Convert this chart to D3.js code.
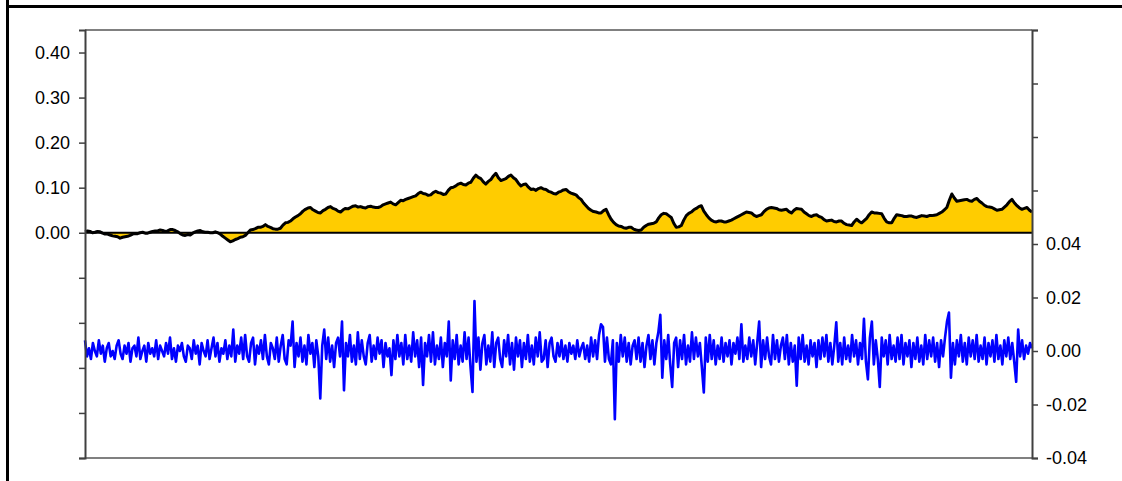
<!DOCTYPE html>
<html>
<head>
<meta charset="utf-8">
<script src="https://cdn.jsdelivr.net/npm/d3@7"></script>
<style>
  body { margin: 0; background: #fff; }
</style>
</head>
<body>
<script>
// cumulative series (gold area), values in thousandths
var cumValues = [
  2,4,3,0,1,3,2,-1,-3,-3,-5,-7,-8,-9,-12,-10,-9,-8,-6,-3,-2,-2,0,1,-1,-1,1,3,4,4,6,5,3,4,7,7,5,2,-2,-5,
  -6,-4,-5,-1,2,4,5,2,1,1,0,0,2,0,-3,-8,-12,-16,-20,-18,-15,-13,-10,-9,-6,0,6,7,9,12,12,14,18,14,12,9,8,8,10,17,
  22,23,26,31,35,38,42,48,52,55,56,51,48,45,44,49,52,56,58,54,52,48,46,51,54,53,56,59,60,57,58,56,55,58,59,57,56,56,58,62,
  64,66,68,64,62,67,72,71,74,76,78,80,82,87,90,87,86,83,84,89,92,89,88,85,86,94,100,101,104,108,110,107,106,110,112,121,128,123,120,113,
  108,114,118,126,132,122,116,118,120,125,128,122,118,110,104,107,108,101,96,97,94,98,100,97,96,92,90,87,86,90,92,95,96,91,88,86,84,78,74,66,
  60,54,50,47,46,44,44,49,52,40,30,23,18,15,14,11,10,12,12,8,6,5,6,12,16,19,20,21,24,33,40,43,42,38,34,21,12,13,16,28,
  38,43,46,51,54,58,60,48,40,33,28,25,24,26,26,24,24,26,28,31,34,37,40,43,46,45,44,39,36,38,40,47,52,55,56,55,54,51,50,51,
  52,47,44,50,54,53,52,46,42,38,36,39,40,36,34,29,26,27,28,25,24,26,26,21,18,17,16,24,30,25,22,27,32,40,46,44,44,43,42,32,
  24,22,22,32,40,39,38,36,36,37,37,35,34,36,38,37,36,38,38,39,40,43,46,51,56,72,86,77,70,71,72,73,74,71,70,74,76,70,66,61,
  58,57,56,53,50,51,52,57,62,69,74,66,60,55,52,54,56,50,46
];

// daily series (blue line), values in thousandths
var dailyValues = [
  4,-2,1,-3,3,0,-2,4,-1,2,-4,1,3,-2,0,-3,2,4,-1,-3,
  2,-1,3,-4,1,2,-2,5,-3,0,2,-4,3,-1,1,-2,4,-3,2,0,
  -2,3,-1,5,-3,1,-4,2,0,3,-2,-4,2,1,-3,4,-1,2,-5,3,
  0,-2,4,-3,1,5,-2,3,-4,1,-1,4,-3,2,-2,8,-4,2,-1,5,
  -3,6,-2,-4,3,5,-5,2,-1,4,-3,6,-2,-5,3,1,-3,5,-4,2,
  6,-3,-5,4,2,11,-6,3,-2,5,-4,2,-5,6,-1,3,-6,4,-2,-17.7,
  2,8,-3,5,-4,2,-6,3,5,-2,11,-14.7,3,-2,6,-4,2,-5,7,-3,
  4,-2,-5,3,6,-4,2,-3,5,-1,4,-6,3,-2,1,-9,4,-3,6,-2,
  3,-5,6,-3,2,-4,7,-2,4,-6,5,-12.7,3,-2,6,-4,7,-5,2,-3,
  5,-6,3,-2,11,-11,4,-3,6,-5,2,-4,7,-3,5,-6,-15.3,18.7,-4,5,
  -7,3,6,-5,2,-4,7,-6,3,5,-3,-6,4,-2,6,-5,3,-7,5,-2,
  4,-6,3,-3,6,-4,2,-5,5,-2,7,-4,-3,4,-6,3,5,-2,-4,3,
  -2,4,-3,2,-4,3,-1,2,-3,4,-2,1,3,-3,2,-4,5,-2,4,-3,
  6,10,9,-4,5,-3,-5,4,-25.5,3,-4,6,-2,5,-4,3,-5,2,4,-3,
  5,-4,3,-6,2,6,-3,4,-5,3,7,13.5,-10,4,-3,6,-5,-13.4,3,5,
  -6,4,-3,6,-5,2,-4,7,-3,5,-2,3,-6,-15.5,5,-4,6,-3,4,-5,
  2,-3,5,-4,3,-2,4,-5,3,-1,5,-3,10,-4,2,-3,5,-2,4,-5,
  3,11,-6,4,-3,5,-2,-5,6,-3,4,-4,2,5,-3,6,-5,3,-4,2,
  -13,5,-3,6,-4,2,-5,4,-2,3,-6,4,-3,5,-2,6,-4,3,-5,2,
  10.7,-4,3,-5,5,-3,2,-4,6,-2,4,-5,3,-3,12,-4,-10.6,5,11,-5,
  4,-3,-13.4,5,-2,4,-5,6,-3,2,-4,5,-3,6,-5,3,-2,4,-6,3,
  -3,5,-4,2,-5,6,-3,4,-2,5,-4,3,-6,4,-2,5,11,14.4,-10,3,
  -5,4,-2,6,-4,3,-5,5,-2,4,-3,6,-4,2,-3,5,-5,3,-2,4,
  -4,6,-3,2,-5,4,-2,5,-3,3,-4,-11.5,8,-2,4,-3,2,-1,3,1
];

var leftTicks = [-0.5, -0.4, -0.3, -0.2, -0.1, 0, 0.1, 0.2, 0.3, 0.4];
var leftLabels = [0, 0.1, 0.2, 0.3, 0.4];
var rightTicks = [-0.04, -0.02, 0, 0.02, 0.04, 0.06, 0.08, 0.10, 0.12];
var rightLabels = [-0.04, -0.02, 0, 0.02, 0.04];

var width = 1122, height = 481;
var plot = {left: 85, right: 1032, top: 30, bottom: 458};

var svg = d3.select('body').append('svg').attr('width', width).attr('height', height);

// outer frame
svg.append('line').attr('x1', 7.5).attr('x2', 7.5).attr('y1', 0).attr('y2', height)
  .attr('stroke', '#000').attr('stroke-width', 3);
svg.append('line').attr('x1', 6).attr('x2', width).attr('y1', 6.5).attr('y2', 6.5)
  .attr('stroke', '#000').attr('stroke-width', 3);

var yLeft = d3.scaleLinear().domain([-0.5, 0.45]).range([plot.bottom, plot.top]);
var yRight = d3.scaleLinear().domain([-0.04, 0.12]).range([plot.bottom, plot.top]);
var xCum = d3.scaleLinear().domain([0, cumValues.length - 1]).range([plot.left, plot.right]);
var xDaily = d3.scaleLinear().domain([0, dailyValues.length - 1]).range([plot.left, plot.right]);

// plot box top / bottom
svg.append('line').attr('x1', plot.left).attr('x2', plot.right).attr('y1', plot.top).attr('y2', plot.top)
  .attr('stroke', '#808080').attr('stroke-width', 2);
svg.append('line').attr('x1', plot.left).attr('x2', plot.right).attr('y1', plot.bottom).attr('y2', plot.bottom)
  .attr('stroke', '#808080').attr('stroke-width', 2);

// gold area
var area = d3.area()
  .x(function(d, i) { return xCum(i); })
  .y0(yLeft(0))
  .y1(function(d) { return yLeft(d / 1000); });
svg.append('path').datum(cumValues).attr('d', area).attr('fill', '#ffcc00');

svg.append('line').attr('x1', plot.left).attr('x2', plot.right).attr('y1', yLeft(0)).attr('y2', yLeft(0))
  .attr('stroke', '#000').attr('stroke-width', 2);

var cumLine = d3.line()
  .x(function(d, i) { return xCum(i); })
  .y(function(d) { return yLeft(d / 1000); });
svg.append('path').datum(cumValues).attr('d', cumLine)
  .attr('fill', 'none').attr('stroke', '#000').attr('stroke-width', 3).attr('stroke-linejoin', 'round');

// blue daily line
var dailyLine = d3.line()
  .x(function(d, i) { return xDaily(i); })
  .y(function(d) { return yRight(d / 1000); });
svg.append('path').datum(dailyValues).attr('d', dailyLine)
  .attr('fill', 'none').attr('stroke', '#0000ff').attr('stroke-width', 2.6).attr('stroke-linejoin', 'round');

// axes
var fmt = function(d) { return d3.format('.2f')(d).replace('\u2212', '-'); };
var isIn = function(list, d) { return list.some(function(v) { return Math.abs(v - d) < 1e-9; }); };
var leftAxis = d3.axisLeft(yLeft).tickValues(leftTicks).tickSize(6).tickPadding(9)
  .tickFormat(function(d) { return isIn(leftLabels, d) ? fmt(d) : ''; });
var gl = svg.append('g').attr('transform', 'translate(' + plot.left + ',0)').call(leftAxis);

var rightAxis = d3.axisRight(yRight).tickValues(rightTicks).tickSize(6).tickPadding(8)
  .tickFormat(function(d) { return isIn(rightLabels, d) ? fmt(d) : ''; });
var gr = svg.append('g').attr('transform', 'translate(' + plot.right + ',0)').call(rightAxis);

[gl, gr].forEach(function(g) {
  g.attr('font-size', 18).attr('font-family', '"Liberation Sans", Arial, sans-serif');
  g.select('.domain').attr('stroke', '#404040').attr('stroke-width', 2);
  g.selectAll('.tick line').attr('stroke', '#404040').attr('stroke-width', 1.5);
  g.selectAll('text').attr('fill', '#000');
});
</script>
</body>
</html>
